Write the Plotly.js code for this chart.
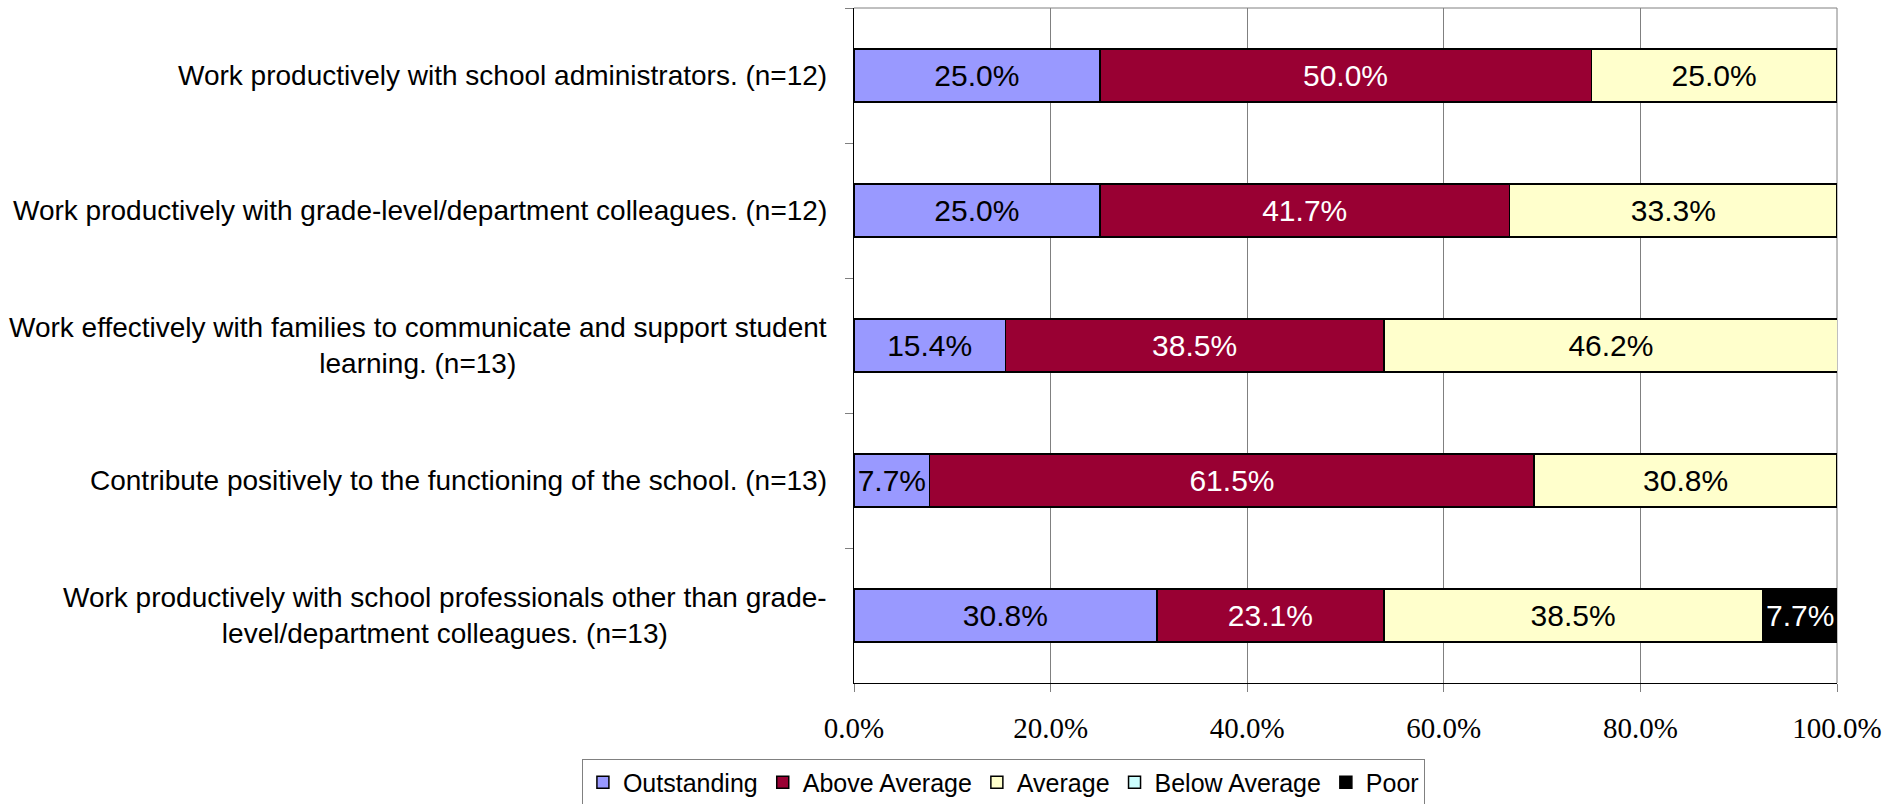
<!DOCTYPE html>
<html>
<head>
<meta charset="utf-8">
<script src="https://cdn.plot.ly/plotly-3.0.1.min.js"></script>
<style>html,body{margin:0;padding:0;background:#fff;}#chart{width:1904px;height:804px;}</style>
</head>
<body>
<div id="chart"></div>
<script>
const categories = [
  "Work productively with school administrators. (n=12)",
  "Work productively with grade-level/department colleagues. (n=12)",
  "Work effectively with families to communicate and support student<br>learning. (n=13)",
  "Contribute positively to the functioning of the school. (n=13)",
  "Work productively with school professionals other than grade-<br>level/department colleagues. (n=13)"
];
const seriesNames = ["Outstanding", "Above Average", "Average", "Below Average", "Poor"];
const outstanding  = [25.0, 25.0, 15.4, 7.7, 30.8];
const aboveAverage = [50.0, 41.7, 38.5, 61.5, 23.1];
const average      = [25.0, 33.3, 46.2, 30.8, 38.5];
const belowAverage = [0, 0, 0, 0, 0];
const poor         = [0, 0, 0, 0, 7.7];
const xTickVals = [0, 0.2, 0.4, 0.6, 0.8, 1.0];

const seriesValues = [outstanding, aboveAverage, average, belowAverage, poor];
const colors = ["#9999FF", "#990033", "#FFFFCC", "#CCFFFF", "#000000"];
const textColors = ["#000000", "#FFFFFF", "#000000", "#000000", "#FFFFFF"];

const traces = seriesNames.map((name, i) => ({
  type: "bar",
  orientation: "h",
  name: name,
  y: categories,
  x: seriesValues[i].map(v => v > 0 ? v / 100 : null),
  text: seriesValues[i].map(v => v > 0 ? v.toFixed(1) + "%" : ""),
  textposition: "inside",
  insidetextanchor: "middle",
  textangle: 0,
  textfont: {family: "Liberation Sans, Arial, sans-serif", size: 30, color: textColors[i]},
  marker: {color: colors[i], line: {color: "#000000", width: 1.5}},
  hoverinfo: "none"
}));

const annotations = categories.map(c => ({
  xref: "paper", yref: "y",
  x: 0, y: c,
  xanchor: "right", yanchor: "middle",
  xshift: -25,
  align: "center",
  showarrow: false,
  text: c,
  font: {family: "Liberation Sans, Arial, sans-serif", size: 28, color: "#000000"}
}));

const layout = {
  width: 1904, height: 804,
  margin: {l: 854, r: 67, t: 8, b: 121, pad: 0, autoexpand: false},
  paper_bgcolor: "#ffffff",
  plot_bgcolor: "#ffffff",
  barmode: "stack",
  bargap: 0.61,
  showlegend: true,
  legend: {
    orientation: "h",
    x: 0.152, xanchor: "center",
    y: -0.112, yanchor: "top",
    bordercolor: "#808080", borderwidth: 1,
    font: {family: "Liberation Sans, Arial, sans-serif", size: 25, color: "#000000"},
    itemwidth: 30,
    traceorder: "normal"
  },
  xaxis: {
    range: [0, 1],
    tickvals: xTickVals,
    tickformat: ".1%",
    showgrid: true, gridcolor: "#808080", gridwidth: 1,
    zeroline: false,
    showline: true, linecolor: "#000000", linewidth: 1,
    ticks: "outside", ticklen: 8, tickcolor: "#808080",
    ticklabelstandoff: 11,
    tickfont: {family: "Liberation Serif, Times New Roman, serif", size: 29, color: "#000000"},
    automargin: false,
    fixedrange: true
  },
  yaxis: {
    type: "category",
    autorange: "reversed",
    tickson: "boundaries",
    showgrid: false,
    zeroline: false,
    showline: true, linecolor: "#000000", linewidth: 1,
    ticks: "outside", ticklen: 8, tickcolor: "#808080",
    showticklabels: false,
    automargin: false,
    fixedrange: true
  },
  shapes: [
    {type: "line", xref: "paper", yref: "paper", x0: 0, x1: 1, y0: 1, y1: 1,
     line: {color: "#808080", width: 1}},
    {type: "line", xref: "paper", yref: "paper", x0: 1, x1: 1, y0: 0, y1: 1,
     line: {color: "#808080", width: 1}, layer: "below"}
  ],
  annotations: annotations
};

Plotly.newPlot("chart", traces, layout, {displayModeBar: false, staticPlot: true});
</script>
</body>
</html>
